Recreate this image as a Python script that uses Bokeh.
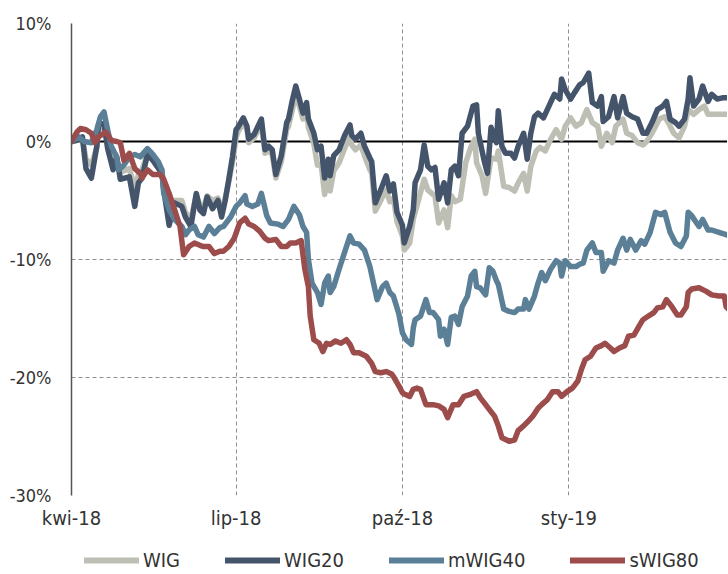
from datetime import datetime
import pandas as pd
from bokeh.plotting import figure
from bokeh.layouts import column
from bokeh.models import FixedTicker, Span, Legend, LegendItem, Range1d
from bokeh.embed import file_html
from bokeh.resources import INLINE

# ---------------- data (percent change since start) ----------------
wig_dates = ["2018-04-01","2018-04-04","2018-04-07","2018-04-09","2018-04-12","2018-04-15","2018-04-16","2018-04-19","2018-04-21","2018-04-24","2018-04-26","2018-04-28",
             "2018-05-03","2018-05-06","2018-05-08","2018-05-10","2018-05-13","2018-05-16","2018-05-21","2018-05-22","2018-05-25","2018-05-28",
             "2018-06-01","2018-06-03","2018-06-06","2018-06-09","2018-06-11","2018-06-13","2018-06-15","2018-06-18","2018-06-21","2018-06-23","2018-06-25","2018-06-27","2018-06-29",
             "2018-07-01","2018-07-02","2018-07-05","2018-07-07","2018-07-08","2018-07-11","2018-07-15","2018-07-17","2018-07-19","2018-07-21","2018-07-23","2018-07-26","2018-07-29","2018-07-30",
             "2018-08-01","2018-08-03","2018-08-05","2018-08-07","2018-08-09","2018-08-10","2018-08-13","2018-08-15","2018-08-17","2018-08-19","2018-08-21","2018-08-22","2018-08-24","2018-08-27","2018-08-30",
             "2018-09-02","2018-09-03","2018-09-05","2018-09-08","2018-09-10","2018-09-13","2018-09-14","2018-09-16","2018-09-19","2018-09-22","2018-09-24","2018-09-26","2018-09-28",
             "2018-10-01","2018-10-02","2018-10-05","2018-10-07","2018-10-10","2018-10-13","2018-10-15","2018-10-18","2018-10-19","2018-10-21","2018-10-24","2018-10-26","2018-10-28","2018-10-30",
             "2018-11-02","2018-11-05","2018-11-08","2018-11-10","2018-11-11","2018-11-14","2018-11-16","2018-11-19","2018-11-22","2018-11-23","2018-11-26","2018-11-29",
             "2018-12-02","2018-12-04","2018-12-07","2018-12-09","2018-12-11","2018-12-14","2018-12-16","2018-12-19","2018-12-22","2018-12-25","2018-12-28","2018-12-30",
             "2019-01-02","2019-01-05","2019-01-08","2019-01-11","2019-01-14","2019-01-17","2019-01-19","2019-01-22","2019-01-25","2019-01-27","2019-01-31",
             "2019-02-02","2019-02-05","2019-02-08","2019-02-11","2019-02-13","2019-02-16","2019-02-20","2019-02-23","2019-02-25","2019-02-28",
             "2019-03-03","2019-03-06","2019-03-08","2019-03-11","2019-03-14","2019-03-17","2019-03-19","2019-03-22","2019-03-26","2019-03-29","2019-03-31"]
wig_values = [0.0,0.1,0.3,-1.5,-2.0,-0.5,1.0,1.2,-0.3,-1.8,-1.5,-2.6,
              -2.3,-4.0,-2.8,-2.4,-1.0,-1.3,-2.4,-3.8,-6.0,-5.0,
              -5.0,-6.0,-6.6,-4.5,-5.4,-5.6,-4.6,-5.0,-4.8,-5.9,-4.8,-3.4,-1.8,
              0.3,0.8,1.6,1.0,-0.1,0.3,1.5,-1.0,-0.8,-1.1,-3.1,-1.7,1.0,1.3,
              2.6,4.0,3.0,1.9,2.6,1.2,-0.2,-2.0,-1.9,-4.5,-2.8,-4.2,-2.5,-1.8,-0.6,
              0.5,-0.3,-0.7,-0.3,-1.2,-2.4,-2.7,-5.9,-5.0,-4.1,-5.1,-4.8,-6.8,
              -8.0,-9.2,-8.6,-6.6,-4.9,-3.2,-4.1,-4.5,-4.6,-6.9,-5.8,-7.3,-4.6,-5.1,
              -4.9,-1.8,-0.4,0.2,-1.8,-2.9,-4.4,-1.4,-1.5,-0.8,-3.8,-3.9,
              -4.2,-3.5,-2.7,-4.2,-2.1,-0.8,-0.5,-0.8,0.2,1.0,0.2,1.3,
              2.0,1.3,1.6,2.7,1.6,1.3,-0.4,0.7,-0.1,1.3,1.9,
              0.7,0.5,-0.1,-0.3,0.0,0.7,1.9,2.1,1.6,0.7,
              0.3,1.3,2.7,2.3,2.7,3.0,2.3,2.3,2.3,2.3,2.3]

wig20_dates = ["2018-04-01","2018-04-04","2018-04-07","2018-04-09","2018-04-12","2018-04-15","2018-04-16","2018-04-19","2018-04-21","2018-04-24","2018-04-26","2018-04-28",
               "2018-05-03","2018-05-06","2018-05-08","2018-05-10","2018-05-13","2018-05-16","2018-05-21","2018-05-22","2018-05-25","2018-05-28",
               "2018-06-01","2018-06-03","2018-06-06","2018-06-09","2018-06-11","2018-06-13","2018-06-15","2018-06-18","2018-06-21","2018-06-23","2018-06-25","2018-06-27","2018-06-29",
               "2018-07-01","2018-07-02","2018-07-05","2018-07-07","2018-07-08","2018-07-11","2018-07-15","2018-07-17","2018-07-19","2018-07-21","2018-07-23","2018-07-26","2018-07-29","2018-07-30",
               "2018-08-01","2018-08-03","2018-08-05","2018-08-07","2018-08-09","2018-08-10","2018-08-13","2018-08-15","2018-08-17","2018-08-19","2018-08-21","2018-08-22","2018-08-24","2018-08-27","2018-08-30",
               "2018-09-02","2018-09-03","2018-09-05","2018-09-08","2018-09-10","2018-09-13","2018-09-14","2018-09-16","2018-09-19","2018-09-22","2018-09-24","2018-09-26","2018-09-28",
               "2018-10-01","2018-10-02","2018-10-05","2018-10-07","2018-10-08","2018-10-11","2018-10-13","2018-10-15","2018-10-17","2018-10-19","2018-10-21","2018-10-24","2018-10-26","2018-10-28","2018-10-30",
               "2018-11-01","2018-11-03","2018-11-06","2018-11-09","2018-11-11","2018-11-12","2018-11-15","2018-11-17","2018-11-19","2018-11-22","2018-11-23","2018-11-25","2018-11-27","2018-11-30",
               "2018-12-02","2018-12-04","2018-12-07","2018-12-09","2018-12-11","2018-12-13","2018-12-15","2018-12-18","2018-12-21","2018-12-24","2018-12-27","2018-12-28","2018-12-30",
               "2019-01-02","2019-01-04","2019-01-07","2019-01-09","2019-01-12","2019-01-14","2019-01-17","2019-01-19","2019-01-20","2019-01-23","2019-01-26","2019-01-28","2019-01-31",
               "2019-02-02","2019-02-05","2019-02-08","2019-02-11","2019-02-13","2019-02-16","2019-02-19","2019-02-22","2019-02-24","2019-02-26",
               "2019-03-01","2019-03-03","2019-03-06","2019-03-08","2019-03-09","2019-03-11","2019-03-14","2019-03-16","2019-03-19","2019-03-21","2019-03-24","2019-03-27","2019-03-29","2019-03-31"]
wig20_values = [0.0,0.1,0.4,-2.3,-3.1,-0.4,1.5,1.5,-0.6,-2.4,-1.3,-3.2,
                -3.0,-5.5,-3.5,-3.1,-1.1,-1.6,-2.7,-4.1,-7.1,-5.2,
                -5.5,-6.4,-7.2,-4.4,-5.8,-6.1,-4.7,-5.7,-5.0,-6.4,-5.0,-3.2,-1.3,
                1.0,1.2,2.0,1.3,0.2,0.6,1.9,-0.7,-0.4,-0.7,-2.8,-1.2,1.6,1.9,
                3.4,4.7,3.6,2.4,3.3,1.9,0.7,-0.7,-0.4,-3.1,-1.5,-2.9,-1.2,-0.7,0.5,
                1.4,0.5,0.2,0.7,-0.4,-1.4,-1.7,-5.2,-4.1,-2.9,-4.2,-3.6,-6.0,
                -7.1,-8.6,-7.2,-5.8,-3.5,-2.4,-0.3,-2.1,-2.4,-2.2,-4.9,-3.5,-5.2,-2.4,-2.1,
                -2.9,0.7,1.3,3.0,3.1,0.7,-1.5,-2.7,1.2,-0.1,2.6,-0.4,-1.0,-1.0,
                -1.4,-0.4,0.7,-1.5,0.7,2.1,2.4,2.0,3.0,4.0,3.6,5.3,4.4,
                3.6,4.1,4.8,5.0,5.8,3.3,3.0,3.8,1.7,2.1,3.8,2.0,3.8,
                2.4,2.1,1.9,0.7,0.7,1.6,2.7,3.0,3.4,1.9,
                1.6,1.3,1.9,3.6,5.4,3.0,3.6,4.7,3.4,4.0,3.6,3.7,3.7,3.7]

mwig40_dates = ["2018-04-01","2018-04-05","2018-04-08","2018-04-12","2018-04-15","2018-04-17","2018-04-19","2018-04-21","2018-04-23","2018-04-26","2018-04-27","2018-04-30",
                "2018-05-03","2018-05-06","2018-05-09","2018-05-13","2018-05-16","2018-05-19","2018-05-21","2018-05-22","2018-05-25","2018-05-28",
                "2018-06-01","2018-06-03","2018-06-05","2018-06-08","2018-06-10","2018-06-13","2018-06-16","2018-06-19","2018-06-22","2018-06-24","2018-06-28",
                "2018-07-01","2018-07-03","2018-07-06","2018-07-07","2018-07-10","2018-07-13","2018-07-15","2018-07-18","2018-07-20","2018-07-24","2018-07-27","2018-07-30",
                "2018-08-02","2018-08-05","2018-08-07","2018-08-09","2018-08-10","2018-08-12","2018-08-15","2018-08-17","2018-08-19","2018-08-21","2018-08-22","2018-08-24","2018-08-27","2018-08-30",
                "2018-09-02","2018-09-04","2018-09-07","2018-09-10","2018-09-13","2018-09-15","2018-09-17","2018-09-20","2018-09-22","2018-09-24","2018-09-26","2018-09-29",
                "2018-10-01","2018-10-03","2018-10-06","2018-10-07","2018-10-08","2018-10-11","2018-10-14","2018-10-16","2018-10-18","2018-10-21","2018-10-22","2018-10-24","2018-10-26","2018-10-28","2018-10-30",
                "2018-11-01","2018-11-03","2018-11-06","2018-11-08","2018-11-10","2018-11-11","2018-11-13","2018-11-16","2018-11-18","2018-11-20","2018-11-22","2018-11-23","2018-11-26","2018-11-29",
                "2018-12-02","2018-12-04","2018-12-07","2018-12-08","2018-12-10","2018-12-13","2018-12-15","2018-12-17","2018-12-19","2018-12-22","2018-12-25","2018-12-27","2018-12-28","2018-12-30",
                "2019-01-02","2019-01-05","2019-01-07","2019-01-09","2019-01-11","2019-01-14","2019-01-16","2019-01-19","2019-01-20","2019-01-23","2019-01-26","2019-01-28","2019-01-31",
                "2019-02-02","2019-02-04","2019-02-07","2019-02-10","2019-02-12","2019-02-15","2019-02-18","2019-02-21","2019-02-23","2019-02-26",
                "2019-03-01","2019-03-04","2019-03-07","2019-03-08","2019-03-10","2019-03-14","2019-03-16","2019-03-19","2019-03-21","2019-03-25","2019-03-29","2019-03-31"]
mwig40_values = [0.0,0.4,0.0,-0.1,1.0,2.1,2.5,1.0,-0.4,-1.3,-2.4,-2.0,
                 -1.3,-1.1,-1.3,-0.6,-1.1,-1.7,-2.4,-4.4,-5.8,-6.6,
                 -7.2,-7.9,-7.5,-7.2,-7.9,-8.1,-7.2,-7.8,-7.3,-7.2,-6.4,
                 -5.5,-5.2,-4.6,-5.3,-5.5,-5.3,-4.4,-6.3,-6.9,-7.0,-7.2,-6.6,
                 -5.5,-6.2,-7.2,-7.7,-10.0,-12.0,-12.8,-13.8,-12.0,-11.4,-12.8,-12.3,-10.8,-9.4,
                 -8.0,-8.6,-8.7,-9.2,-10.6,-12.0,-13.4,-12.3,-12.0,-12.8,-13.1,-14.6,
                 -16.2,-16.8,-17.2,-15.8,-15.1,-14.8,-13.4,-14.5,-14.5,-15.1,-16.5,-15.9,-17.2,-14.9,-14.8,
                 -15.5,-14.0,-13.1,-11.4,-11.0,-12.3,-12.4,-13.0,-10.7,-11.0,-11.8,-12.1,-14.2,-14.4,
                 -14.5,-14.2,-14.2,-13.4,-14.2,-13.1,-12.0,-11.1,-11.8,-10.8,-10.1,-10.3,-11.4,-10.1,
                 -10.6,-10.6,-10.4,-10.3,-9.2,-8.6,-9.4,-9.4,-11.0,-10.1,-10.3,-9.2,-8.2,
                 -9.2,-8.3,-9.2,-8.4,-8.7,-7.7,-6.0,-6.2,-6.0,-7.7,
                 -8.6,-8.9,-8.0,-6.0,-6.3,-7.2,-6.6,-7.5,-7.5,-7.7,-7.9,-8.0]

swig80_dates = ["2018-04-01","2018-04-04","2018-04-06","2018-04-09","2018-04-12","2018-04-14","2018-04-16","2018-04-20","2018-04-23","2018-04-26","2018-04-28","2018-04-30",
                "2018-05-03","2018-05-06","2018-05-09","2018-05-10","2018-05-13","2018-05-16","2018-05-20","2018-05-22","2018-05-25","2018-05-28","2018-05-31",
                "2018-06-02","2018-06-05","2018-06-08","2018-06-11","2018-06-13","2018-06-16","2018-06-19","2018-06-22","2018-06-24","2018-06-27","2018-06-30",
                "2018-07-03","2018-07-06","2018-07-08","2018-07-11","2018-07-14","2018-07-17","2018-07-19","2018-07-23","2018-07-26","2018-07-29","2018-07-31",
                "2018-08-03","2018-08-06","2018-08-08","2018-08-10","2018-08-11","2018-08-13","2018-08-16","2018-08-18","2018-08-20","2018-08-22","2018-08-25","2018-08-28","2018-08-31",
                "2018-09-02","2018-09-04","2018-09-07","2018-09-11","2018-09-14","2018-09-16","2018-09-19","2018-09-22","2018-09-25","2018-09-26","2018-09-29",
                "2018-10-01","2018-10-02","2018-10-05","2018-10-07","2018-10-09","2018-10-11","2018-10-14","2018-10-18","2018-10-21","2018-10-24","2018-10-26","2018-10-29",
                "2018-11-01","2018-11-04","2018-11-08","2018-11-11","2018-11-13","2018-11-16","2018-11-18","2018-11-21","2018-11-23","2018-11-25","2018-11-29",
                "2018-12-02","2018-12-04","2018-12-07","2018-12-09","2018-12-12","2018-12-15","2018-12-17","2018-12-20","2018-12-23","2018-12-26","2018-12-28","2018-12-31",
                "2019-01-03","2019-01-06","2019-01-08","2019-01-10","2019-01-13","2019-01-16","2019-01-19","2019-01-21","2019-01-24","2019-01-26","2019-01-29",
                "2019-02-01","2019-02-03","2019-02-06","2019-02-09","2019-02-11","2019-02-13","2019-02-17","2019-02-19","2019-02-22","2019-02-24","2019-02-27",
                "2019-03-02","2019-03-04","2019-03-07","2019-03-08","2019-03-10","2019-03-14","2019-03-18","2019-03-21","2019-03-25","2019-03-28","2019-03-29","2019-03-31"]
swig80_values = [0.0,0.8,1.1,1.0,0.7,-0.1,0.4,0.8,0.1,0.0,-0.1,-1.6,
                 -1.0,-2.3,-2.7,-3.1,-2.4,-2.8,-2.8,-3.2,-4.4,-5.8,-7.2,
                 -9.6,-8.9,-8.6,-8.8,-8.9,-8.9,-9.5,-9.3,-9.3,-8.9,-8.2,
                 -6.9,-6.5,-7.0,-7.2,-7.6,-8.2,-8.4,-8.3,-8.9,-8.9,-8.6,
                 -8.6,-8.4,-10.8,-12.3,-14.8,-16.8,-17.1,-17.8,-17.1,-17.2,-16.9,-17.1,-16.8,
                 -17.2,-17.9,-17.9,-18.2,-18.8,-19.5,-19.6,-19.5,-19.7,-19.9,-20.7,
                 -21.3,-21.4,-21.6,-21.0,-20.9,-21.0,-22.3,-22.3,-22.4,-22.7,-23.4,-22.3,
                 -22.3,-21.6,-21.4,-21.2,-21.7,-22.3,-22.7,-23.3,-24.1,-25.1,-25.4,
                 -25.3,-24.5,-24.1,-23.8,-23.3,-22.6,-22.3,-21.9,-21.2,-21.2,-21.6,-21.2,
                 -20.9,-20.3,-19.3,-18.5,-18.2,-17.5,-17.3,-17.1,-17.5,-17.8,-17.5,
                 -17.3,-16.5,-16.4,-15.6,-15.1,-14.9,-14.5,-14.1,-14.0,-13.4,-14.0,
                 -14.7,-14.7,-14.0,-12.8,-12.5,-12.4,-12.7,-13.0,-13.1,-13.1,-14.0,-14.3]

series_names = ["WIG", "WIG20", "mWIG40", "sWIG80"]
series_colors = ["#bdbfb4", "#44546b", "#5a7f97", "#9c4d4b"]

tick_dates = ["2018-04-01", "2018-07-01", "2018-10-01", "2019-01-01"]
tick_labels = ["kwi-18", "lip-18", "paź-18", "sty-19"]
y_ticks = [-30, -20, -10, 0, 10]
y_tick_labels = ["-30%", "-20%", "-10%", "0%", "10%"]

FONT = "DejaVu Sans Condensed"
TEXT_COLOR = "#333333"

all_dates = [wig_dates, wig20_dates, mwig40_dates, swig80_dates]
all_values = [wig_values, wig20_values, mwig40_values, swig80_values]

# ---------------- main chart ----------------
p = figure(width=727, height=548, x_axis_type="datetime",
           x_range=Range1d(datetime(2018, 4, 1), datetime(2019, 3, 29, 18)),
           y_range=Range1d(-30, 10),
           output_backend="svg", toolbar_location=None,
           min_border_left=71, min_border_right=0, min_border_top=23, min_border_bottom=53)
p.outline_line_color = None
p.background_fill_color = "white"
p.border_fill_color = "white"

tick_ms = [int(pd.Timestamp(d).value // 10**6) for d in tick_dates]
p.xaxis.ticker = FixedTicker(ticks=tick_ms)
p.xaxis.major_label_overrides = {t: l for t, l in zip(tick_ms, tick_labels)}
p.yaxis.ticker = FixedTicker(ticks=y_ticks)
p.yaxis.major_label_overrides = {t: l for t, l in zip(y_ticks, y_tick_labels)}

for ax in (p.xaxis[0], p.yaxis[0]):
    ax.major_tick_line_color = None
    ax.minor_tick_line_color = None
    ax.major_tick_out = 0
    ax.major_tick_in = 0
    ax.major_label_text_font = FONT
    ax.major_label_text_color = TEXT_COLOR
p.xaxis.major_label_text_font_size = "20px"
p.yaxis.major_label_text_font_size = "18px"
p.xaxis.axis_line_color = None
p.xaxis.major_label_standoff = 10
p.yaxis.axis_line_color = "#555555"
p.yaxis.axis_line_width = 1.5
p.yaxis.major_label_standoff = 20

for g in (p.xgrid[0], p.ygrid[0]):
    g.grid_line_color = "#8f8f8f"
    g.grid_line_dash = "4 3"
    g.grid_line_width = 1

zero = Span(location=0, dimension="width", line_color="black", line_width=2, level="underlay")
p.add_layout(zero)

for name, dates, vals, color in zip(series_names, all_dates, all_values, series_colors):
    p.line(x=pd.to_datetime(dates), y=vals, line_width=5.5, line_color=color,
           line_join="round", line_cap="round")

# ---------------- legend strip (series drawn out of its view; only the legend shows) ----------------
lg = figure(width=727, height=24, x_range=Range1d(0, 1), y_range=Range1d(0, 1),
            output_backend="svg", toolbar_location=None,
            x_axis_location=None, y_axis_location=None,
            min_border_left=71, min_border_right=0, min_border_top=0, min_border_bottom=0)
lg.outline_line_color = None
lg.xgrid.visible = False
lg.ygrid.visible = False
lg.border_fill_color = "white"
lg.background_fill_color = "white"

items = []
for name, dates, vals, color in zip(series_names, all_dates, all_values, series_colors):
    r = lg.line(x=pd.to_datetime(dates), y=vals, line_width=6, line_color=color, line_cap="round")
    items.append(LegendItem(label=name, renderers=[r]))

legend = Legend(items=items, orientation="horizontal", location=(13, 0),
                label_text_font=FONT, label_text_font_size="20px", label_text_color=TEXT_COLOR,
                glyph_width=55, glyph_height=20, label_standoff=4, spacing=45,
                padding=0, margin=0, border_line_color=None, background_fill_alpha=0)
lg.add_layout(legend)

open("out.html", "w").write(file_html(column(p, lg, spacing=0), INLINE))
